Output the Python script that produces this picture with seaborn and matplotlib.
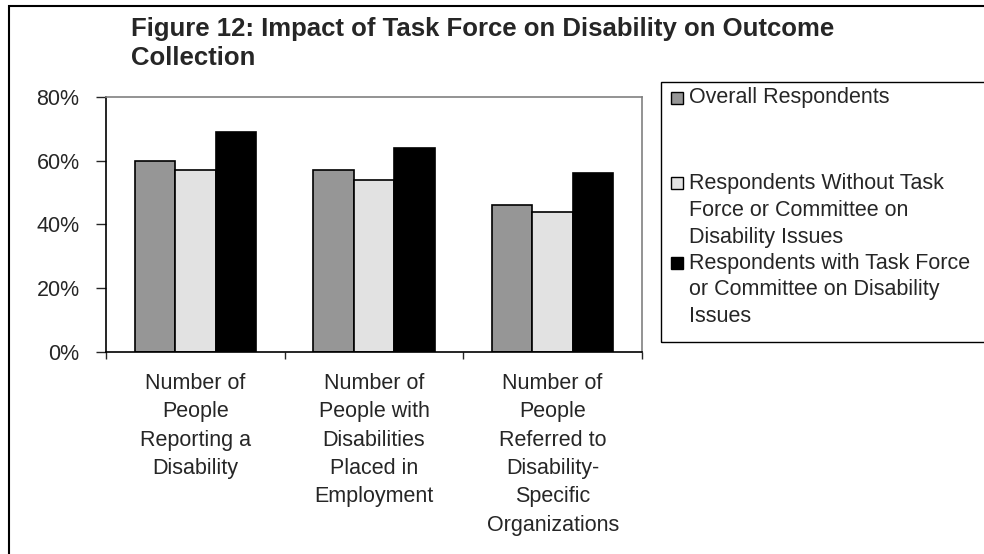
import numpy as np
import pandas as pd
import matplotlib
matplotlib.use('Agg')
import matplotlib.pyplot as plt
import matplotlib.patches as mpatches
import seaborn as sns

# values
categories = ['Number of\nPeople\nReporting a\nDisability',
              'Number of\nPeople with\nDisabilities\nPlaced in\nEmployment',
              'Number of\nPeople\nReferred to\nDisability-\nSpecific\nOrganizations']
series = ['Overall Respondents',
          'Respondents Without Task\nForce or Committee on\nDisability Issues',
          'Respondents with Task Force\nor Committee on Disability\nIssues']
overall = [0.60, 0.57, 0.46]
without_tf = [0.57, 0.54, 0.44]
with_tf = [0.69, 0.64, 0.56]
yticks = [0.0, 0.2, 0.4, 0.6, 0.8]
ytick_labels = ['0%', '20%', '40%', '60%', '80%']
title_lines = ['Figure 12: Impact of Task Force on Disability on Outcome', 'Collection']
colors = ['#969696', '#e2e2e2', '#000000']

sns.set_style('white')
plt.rcParams['font.family'] = ['Liberation Sans', 'DejaVu Sans']

W, H = 984, 554


def fx(x):
    return x / W


def fy(y):
    return 1 - y / H


rows = []
for name, vals in zip(series, [overall, without_tf, with_tf]):
    for cat, v in zip(categories, vals):
        rows.append({'category': cat, 'series': name, 'value': v})
df = pd.DataFrame(rows)

fig = plt.figure(figsize=(W / 100, H / 100), dpi=100)
ax = fig.add_axes([fx(106), fy(352), (642 - 106) / W, (352 - 97) / H])

sns.barplot(data=df, x='category', y='value', hue='series', order=categories,
            hue_order=series, palette=colors, width=0.68, gap=0,
            edgecolor='black', linewidth=1.2, saturation=1, ax=ax, legend=False)

ax.set_xlim(-0.5, len(categories) - 0.5)
ax.set_ylim(0, 0.8)
ax.set_xlabel('')
ax.set_ylabel('')

# group separators as major ticks, names on minor ticks
ax.set_xticks(np.arange(len(categories) + 1) - 0.5)
ax.set_xticklabels([])
ax.set_xticks(np.arange(len(categories)), minor=True)
ax.set_xticklabels(categories, minor=True, fontsize=15.5, linespacing=1.46)
ax.tick_params(axis='x', which='major', length=5, width=1, direction='out', bottom=True)
ax.tick_params(axis='x', which='minor', length=0, pad=15)

ax.set_yticks(yticks)
ax.set_yticklabels(ytick_labels, fontsize=15.5)
ax.tick_params(axis='y', length=7, width=1, direction='out', left=True, pad=12)

for side in ['top', 'right']:
    ax.spines[side].set_color('#808080')
    ax.spines[side].set_linewidth(1.2)
for side in ['left', 'bottom']:
    ax.spines[side].set_color('black')
    ax.spines[side].set_linewidth(1.2)

# title
fig.text(fx(131), fy(36), title_lines[0], fontsize=18.5, fontweight='bold', va='baseline')
fig.text(fx(131), fy(65), title_lines[1], fontsize=18.5, fontweight='bold', va='baseline')

# outer frame (runs off the right and bottom edges like the reference)
fig.add_artist(mpatches.Rectangle((fx(8.5), -0.1), 1.2, fy(5.5) + 0.1, fill=False,
                                  edgecolor='black', linewidth=1.5, transform=fig.transFigure))

# legend box
fig.add_artist(mpatches.Rectangle((fx(661), fy(342)), 1.0, (342 - 82) / H, fill=False,
                                  edgecolor='black', linewidth=1.0, transform=fig.transFigure))
first_line_y = [98, 183, 263]
line_step = 27
for name, col, y0 in zip(series, colors, first_line_y):
    fig.add_artist(mpatches.Rectangle((fx(671), fy(y0 + 6)), 12 / W, 12 / H, facecolor=col,
                                      edgecolor='black', linewidth=1.0, transform=fig.transFigure))
    for i, line in enumerate(name.split('\n')):
        fig.text(fx(689), fy(y0 + i * line_step), line, fontsize=15.5, va='center')

fig.savefig('out.png', dpi=100)
